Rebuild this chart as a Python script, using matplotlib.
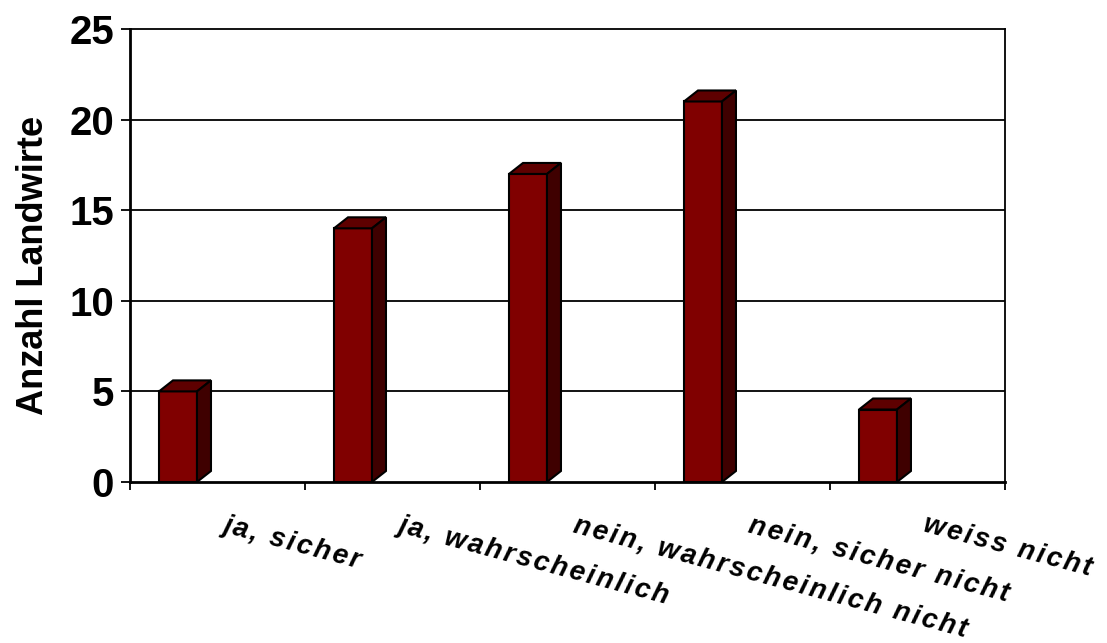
import matplotlib.pyplot as plt
from matplotlib.patches import Polygon
from matplotlib.transforms import offset_copy

# answers and number of farmers per answer
categories = ['ja, sicher', 'ja, wahrscheinlich', 'nein, wahrscheinlich nicht',
              'nein, sicher nicht', 'weiss nicht']
counts = [5, 14, 17, 21, 4]
y_ticks = [0, 5, 10, 15, 20, 25]

front_color = '#800000'
top_color = '#5e0000'
side_color = '#3f0000'

fig = plt.figure(figsize=(11.07, 6.43), dpi=100)
ax = fig.add_axes([0.1174, 0.2504, 0.7904, 0.7045])

bar_left = 0.166   # offset of bar inside its category
bar_width = 0.217
depth_x = 0.08
depth_y = 0.607

for i, v in enumerate(counts):
    x0 = i + bar_left
    x1 = x0 + bar_width
    ax.bar(x0, v, width=bar_width, align='edge', color=front_color,
           edgecolor='black', linewidth=1.5, zorder=3)
    # top face
    ax.add_patch(Polygon([(x0, v), (x1, v), (x1 + depth_x, v + depth_y), (x0 + depth_x, v + depth_y)],
                         closed=True, facecolor=top_color, edgecolor='black', linewidth=1.5, zorder=3))
    # side face
    ax.add_patch(Polygon([(x1, 0), (x1 + depth_x, depth_y), (x1 + depth_x, v + depth_y), (x1, v)],
                         closed=True, facecolor=side_color, edgecolor='black', linewidth=1.5, zorder=3))

ax.set_xlim(0, 5)
ax.set_ylim(0, 25)

for y in y_ticks[1:-1]:
    ax.axhline(y, color='black', linewidth=1.3, zorder=1)

for side in ['left', 'bottom']:
    ax.spines[side].set_linewidth(2)
for side in ['top', 'right']:
    ax.spines[side].set_linewidth(1.3)

ax.set_yticks(y_ticks)
ax.set_yticklabels([str(t) for t in y_ticks], fontsize=29, fontweight='bold',
                   family='Liberation Sans')
ax.tick_params(axis='y', direction='out', length=6.5, width=1.3, pad=5)

ax.set_xticks(range(6))
ax.set_xticklabels([])
ax.tick_params(axis='x', which='major', direction='out', length=6, width=1.3)

# category labels, letter-spaced with hair spaces like the original
label_tr = offset_copy(ax.transData, fig=fig, x=10, y=-30, units='dots')
for i, name in enumerate(categories):
    spaced = '\u200a'.join(name)
    ax.text(i + 0.5, 0, spaced, transform=label_tr, rotation=-15, rotation_mode='anchor',
            ha='left', va='top', fontsize=20, fontweight='bold', fontstyle='italic',
            family=['Liberation Sans', 'DejaVu Sans'], clip_on=False)

ax.set_ylabel('Anzahl Landwirte', fontsize=26, fontweight='bold', family='Liberation Sans')
ax.yaxis.set_label_coords(-0.090, 0.479)

plt.savefig('out.png', dpi=100)
